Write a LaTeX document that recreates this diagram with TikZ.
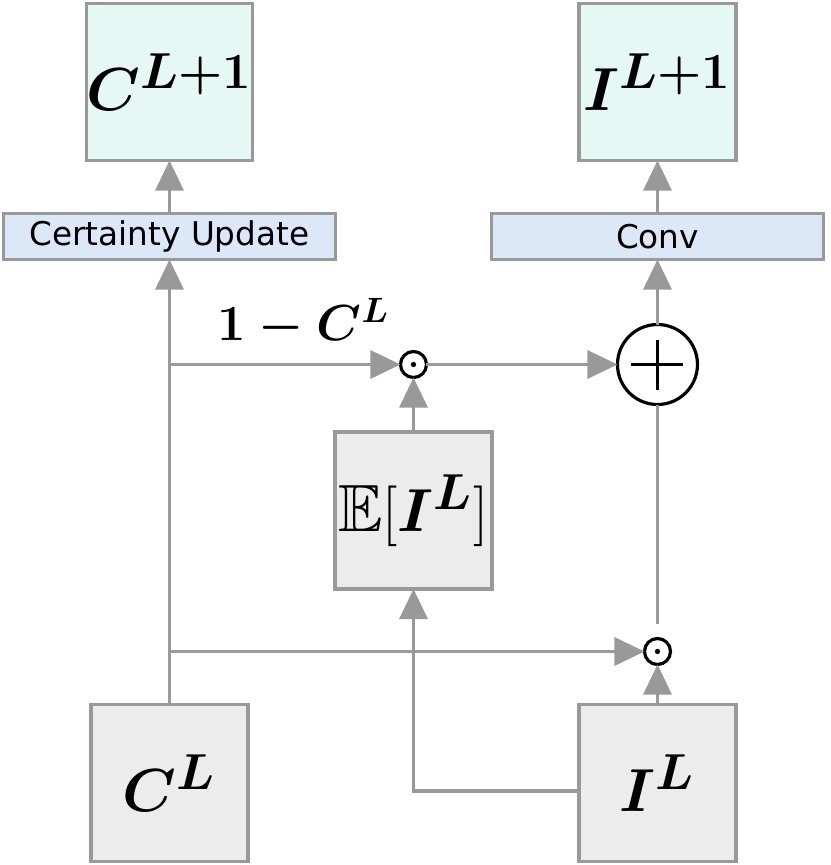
\documentclass[tikz,border=0pt]{standalone}
\usepackage{amsmath,amssymb}
\usepackage{fontspec}
\setsansfont{DejaVu Sans}
\usetikzlibrary{arrows.meta,positioning,calc}

\definecolor{mintfill}{HTML}{E6F8F3}
\definecolor{barfill}{HTML}{DCE8F8}
\definecolor{boxgray}{HTML}{ECECEC}
\definecolor{linegray}{HTML}{999999}

\begin{document}
\begin{tikzpicture}[
  >={Triangle[length=0.3cm,width=0.28cm]},
  flow/.style={->, draw=linegray, line width=0.9pt},
  inbox/.style={draw=linegray, line width=0.9pt, fill=boxgray, minimum width=1.57cm, minimum height=1.57cm, inner sep=0pt, outer sep=0pt, font=\fontsize{19}{22}\selectfont},
  outbox/.style={inbox, fill=mintfill},
  opbar/.style={draw=linegray, line width=0.9pt, fill=barfill, minimum width=3.32cm, minimum height=0.46cm, inner sep=0pt, outer sep=0pt, font=\sffamily\fontsize{9.3}{11}\selectfont},
  mult/.style={circle, draw, line width=0.9pt, minimum size=0.26cm, inner sep=0pt, outer sep=0pt,
    path picture={\fill (path picture bounding box.center) circle (0.75pt);}},
  addop/.style={circle, draw, line width=0.9pt, minimum size=0.8cm, inner sep=0pt, outer sep=0pt,
    path picture={\draw[line width=0.9pt] (path picture bounding box.center) +(-0.26,0) -- +(0.26,0) +(0,-0.25) -- +(0,0.25);}}
]
\useasboundingbox (-1.695,-0.82) rectangle (6.605,7.83);

% inputs
\node[inbox] (CL) {$\boldsymbol{C^L}$};
\node[inbox, right=3.31cm of CL] (IL) {$\boldsymbol{I^L}$};

% operators
\node[mult, above=0.4cm of IL] (m2) {};
\node[addop, above=2.34cm of m2] (add) {};
\node[inbox] (Ebox) at ($(CL)!0.5!(IL)+(0,2.725)$) {$\mathbb{E}[\boldsymbol{I^L}]$};
\node[mult] (m1) at (Ebox |- add) {};

% update blocks and outputs
\node[opbar, above=4.45cm of CL] (cupd) {Certainty Update};
\node[opbar, above=0.65cm of add] (conv) {Conv};
\node[outbox, above=0.53cm of cupd] (Cnext) {$\boldsymbol{C^{L+1}}$};
\node[outbox, above=0.53cm of conv] (Inext) {$\boldsymbol{I^{L+1}}$};

\draw[flow] (CL.north) -- (cupd.south);
\draw[flow] (CL.north |- m1) -- node[pos=0.58, above=1pt, font=\Large] {$\boldsymbol{1-C^L}$} (m1.west);
\draw[flow] (CL.north |- m2) -- (m2.west);
\draw[flow] ([yshift=-0.08cm]IL.west) -| (Ebox.south);
\draw[flow] (Ebox.north) -- (m1.south);
\draw[flow] (IL.north) -- (m2.south);
\draw[flow] (m1.east) -- (add.west);
\draw[draw=linegray, line width=0.9pt, shorten <=0.15cm] (m2.north) -- (add.south);
\draw[flow] (add.north) -- (conv.south);
\draw[flow] (cupd.north) -- (Cnext.south);
\draw[flow] (conv.north) -- (Inext.south);

\end{tikzpicture}
\end{document}
